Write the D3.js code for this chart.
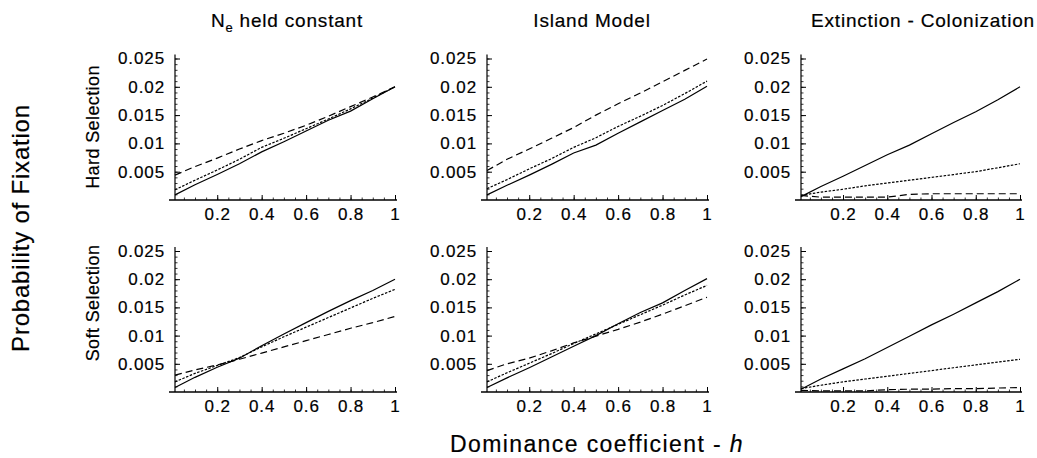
<!DOCTYPE html>
<html><head><meta charset="utf-8">
<script src="https://cdn.jsdelivr.net/npm/d3@7"></script>
<style>
body{margin:0;background:#fff;}
svg{display:block;font-family:"Liberation Sans",Arial,Helvetica,sans-serif;}
</style></head>
<body><svg id="c" width="1037" height="458"></svg>
<script>
// ---- data ----
const hValues = [0.01, 0.1, 0.2, 0.3, 0.4, 0.5, 0.6, 0.7, 0.8, 0.9, 1.0];
const columnTitles = ["N_e held constant", "Island Model", "Extinction - Colonization"];
const rowTitles = ["Hard Selection", "Soft Selection"];
const xTickValues = [0.2, 0.4, 0.6, 0.8, 1];
const xTickLabels = ["0.2", "0.4", "0.6", "0.8", "1"];
const yTickValues = [0.005, 0.01, 0.015, 0.02, 0.025];
const yTickLabels = ["0.005", "0.01", "0.015", "0.02", "0.025"];
const seriesNames = ["solid", "dotted", "dashed"];

// Hard selection
const hardNeSolid   = [0.0009,0.0027,0.0045,0.0064,0.0085,0.0103,0.0122,0.0141,0.0157,0.0179,0.0200];
const hardNeDotted  = [0.0018,0.0035,0.0053,0.0072,0.0093,0.0109,0.0126,0.0143,0.0161,0.0180,0.0200];
const hardNeDashed  = [0.0044,0.0059,0.0074,0.0090,0.0105,0.0118,0.0132,0.0148,0.0165,0.0182,0.0200];
const hardIsSolid   = [0.0009,0.0026,0.0044,0.0063,0.0083,0.0097,0.0118,0.0138,0.0158,0.0178,0.0201];
const hardIsDotted  = [0.0020,0.0036,0.0055,0.0073,0.0093,0.0110,0.0130,0.0148,0.0167,0.0188,0.0210];
const hardIsDashed  = [0.0052,0.0072,0.0090,0.0109,0.0128,0.0150,0.0170,0.0189,0.0209,0.0229,0.0249];
const hardExSolid   = [0.0006,0.0024,0.0042,0.0061,0.0080,0.0097,0.0117,0.0137,0.0156,0.0177,0.0200];
const hardExDotted  = [0.0008,0.0014,0.0019,0.0025,0.0030,0.0035,0.0040,0.0045,0.0050,0.0057,0.0064];
const hardExDashed  = [0.0008,0.0005,0.0005,0.0005,0.0005,0.0010,0.0011,0.0011,0.0011,0.0011,0.0011];
// Soft selection
const softNeSolid   = [0.0008,0.0026,0.0044,0.0060,0.0082,0.0103,0.0123,0.0143,0.0162,0.0180,0.0200];
const softNeDotted  = [0.0018,0.0033,0.0047,0.0061,0.0080,0.0098,0.0115,0.0132,0.0149,0.0166,0.0182];
const softNeDashed  = [0.0030,0.0039,0.0048,0.0058,0.0069,0.0080,0.0091,0.0102,0.0113,0.0123,0.0134];
const softIsSolid   = [0.0008,0.0025,0.0043,0.0062,0.0081,0.0100,0.0121,0.0141,0.0158,0.0180,0.0201];
const softIsDotted  = [0.0018,0.0034,0.0051,0.0068,0.0086,0.0103,0.0120,0.0137,0.0154,0.0172,0.0189];
const softIsDashed  = [0.0038,0.0050,0.0060,0.0073,0.0087,0.0099,0.0111,0.0124,0.0138,0.0153,0.0168];
const softExSolid   = [0.0005,0.0023,0.0041,0.0059,0.0079,0.0099,0.0119,0.0138,0.0158,0.0178,0.0200];
const softExDotted  = [0.0006,0.0012,0.0018,0.0023,0.0028,0.0033,0.0038,0.0043,0.0048,0.0053,0.0058];
const softExDashed  = [0.0003,0.0002,0.0002,0.0002,0.0004,0.0005,0.0005,0.0006,0.0006,0.0007,0.0008];

const panelData = [
  [[hardNeSolid,hardNeDotted,hardNeDashed],[hardIsSolid,hardIsDotted,hardIsDashed],[hardExSolid,hardExDotted,hardExDashed]],
  [[softNeSolid,softNeDotted,softNeDashed],[softIsSolid,softIsDotted,softIsDashed],[softExSolid,softExDotted,softExDashed]]
];

// ---- layout ----
const colRanges = [[175,395],[487,707],[801,1020]];
const rowRanges = [[200,58.5],[392,251]];
const dashes = {solid:null, dotted:"2.5,1.5", dashed:"7,4"};
const fontTick = 17;

const svg = d3.select("#c");

for (let r=0;r<2;r++){
  for (let c=0;c<3;c++){
    const x = d3.scaleLinear().domain([0.01,1]).range(colRanges[c]);
    const y = d3.scaleLinear().domain([0,0.025]).range(rowRanges[r]);
    const g = svg.append("g");

    // minor ticks
    g.append("g").attr("transform",`translate(${x(0.01)},0)`)
      .call(d3.axisLeft(y).tickValues(d3.range(1,26).map(i=>i*0.001)).tickSizeInner(-2.5).tickSizeOuter(0).tickFormat(""))
      .call(a=>a.select(".domain").remove())
      .call(a=>a.selectAll("line").attr("stroke","#000").attr("stroke-width",0.8));
    g.append("g").attr("transform",`translate(0,${y(0)})`)
      .call(d3.axisBottom(x).tickValues(d3.range(1,21).map(i=>i*0.05)).tickSizeInner(-2.5).tickSizeOuter(0).tickFormat(""))
      .call(a=>a.select(".domain").remove())
      .call(a=>a.selectAll("line").attr("stroke","#000").attr("stroke-width",0.8));

    // major ticks + labels
    const ya = g.append("g").attr("transform",`translate(${x(0.01)},0)`)
      .call(d3.axisLeft(y).tickValues(yTickValues).tickSizeInner(-5).tickSizeOuter(0).tickPadding(10)
        .tickFormat((d,i)=>yTickLabels[i]));
    ya.select(".domain").remove();
    ya.selectAll("line").attr("stroke","#000").attr("stroke-width",1);
    ya.selectAll("text").attr("font-size",fontTick).attr("fill","#000").attr("letter-spacing","0.9px")
      .attr("stroke","#000").attr("stroke-width",0.2)
      .attr("font-family","'Liberation Sans',Arial,sans-serif");

    const xa = g.append("g").attr("transform",`translate(0,${y(0)})`)
      .call(d3.axisBottom(x).tickValues(xTickValues).tickSizeInner(-5).tickSizeOuter(0).tickPadding(8)
        .tickFormat((d,i)=>xTickLabels[i]));
    xa.select(".domain").remove();
    xa.selectAll("line").attr("stroke","#000").attr("stroke-width",1);
    xa.selectAll("text").attr("font-size",fontTick).attr("fill","#000").attr("letter-spacing","0.9px")
      .attr("stroke","#000").attr("stroke-width",0.2)
      .attr("font-family","'Liberation Sans',Arial,sans-serif");

    // axis lines
    g.append("line").attr("x1",x(0.01)).attr("x2",x(0.01)).attr("y1",y(0)).attr("y2",y(0.0257))
      .attr("stroke","#000").attr("stroke-width",1.2);
    g.append("line").attr("x1",x(0.01)-6).attr("x2",x(1)+2).attr("y1",y(0)).attr("y2",y(0))
      .attr("stroke","#000").attr("stroke-width",1.4);

    // series
    const line = d3.line().x((d,i)=>x(hValues[i])).y(d=>y(d));
    panelData[r][c].forEach((vals,k)=>{
      g.append("path").datum(vals).attr("d",line)
        .attr("fill","none").attr("stroke","#000").attr("stroke-width",1.2)
        .attr("stroke-dasharray",dashes[seriesNames[k]]);
    });
  }
}

// column titles
const titleX = [287, 592, 923];
columnTitles.forEach((t,i)=>{
  const tx = svg.append("text").attr("x",titleX[i]).attr("y",27).attr("text-anchor","middle")
    .attr("font-size",19).attr("letter-spacing","0.8px").attr("fill","#000")
    .attr("stroke","#000").attr("stroke-width",0.2);
  if (t.startsWith("N_e")){
    tx.append("tspan").text("N");
    tx.append("tspan").text("e").attr("font-size",13).attr("dy",5);
    tx.append("tspan").text(" held constant").attr("dy",-5);
  } else tx.text(t);
});

// row titles
const rowY = [127, 303];
rowTitles.forEach((t,i)=>{
  svg.append("text").attr("transform",`translate(99,${rowY[i]}) rotate(-90)`)
    .attr("text-anchor","middle").attr("font-size",18).attr("letter-spacing","0.4px").attr("fill","#000")
    .attr("stroke","#000").attr("stroke-width",0.2).text(t);
});

// overall axis titles
svg.append("text").attr("transform","translate(29,228) rotate(-90)").attr("text-anchor","middle")
  .attr("font-size",24).attr("letter-spacing","0.8px").attr("fill","#000")
  .attr("stroke","#000").attr("stroke-width",0.2).text("Probability of Fixation");

const xt = svg.append("text").attr("x",597).attr("y",452).attr("text-anchor","middle")
  .attr("font-size",23).attr("letter-spacing","1.4px").attr("fill","#000")
  .attr("stroke","#000").attr("stroke-width",0.2);
xt.append("tspan").text("Dominance coefficient - ");
xt.append("tspan").text("h").attr("font-style","italic");
</script>
</body></html>
